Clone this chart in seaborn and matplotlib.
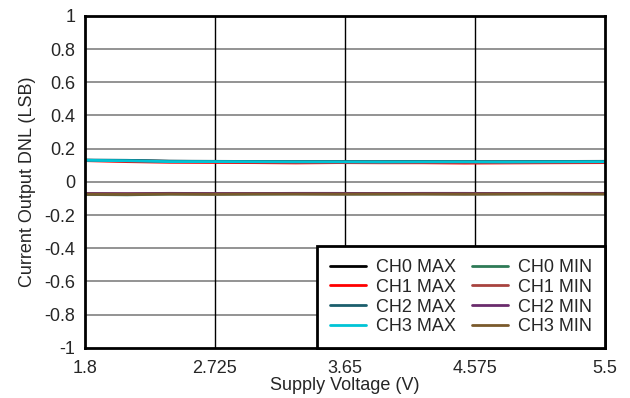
import pandas as pd
import seaborn as sns
import matplotlib.pyplot as plt

# supply voltage sweep (V)
voltage = [1.8, 2.1, 2.4, 2.7, 3.0, 3.3, 3.6, 3.9, 4.2, 4.5, 4.8, 5.1, 5.5]

# DNL (LSB) per channel
ch0_max = [0.130, 0.128, 0.124, 0.123, 0.122, 0.121, 0.121, 0.120, 0.121, 0.121, 0.120, 0.121, 0.122]
ch1_max = [0.128, 0.122, 0.118, 0.117, 0.116, 0.114, 0.116, 0.115, 0.115, 0.113, 0.114, 0.115, 0.116]
ch2_max = [0.132, 0.130, 0.125, 0.124, 0.123, 0.122, 0.122, 0.122, 0.123, 0.122, 0.122, 0.123, 0.124]
ch3_max = [0.130, 0.127, 0.122, 0.122, 0.121, 0.120, 0.120, 0.119, 0.120, 0.120, 0.119, 0.120, 0.121]
ch0_min = [-0.076, -0.078, -0.074, -0.075, -0.074, -0.073, -0.074, -0.074, -0.073, -0.074, -0.073, -0.073, -0.073]
ch1_min = [-0.072, -0.072, -0.071, -0.072, -0.071, -0.071, -0.072, -0.071, -0.071, -0.072, -0.071, -0.071, -0.071]
ch2_min = [-0.070, -0.071, -0.069, -0.070, -0.070, -0.069, -0.069, -0.070, -0.069, -0.069, -0.070, -0.069, -0.069]
ch3_min = [-0.074, -0.075, -0.073, -0.074, -0.073, -0.073, -0.073, -0.073, -0.073, -0.073, -0.073, -0.072, -0.073]

series_names = ['CH0 MAX', 'CH1 MAX', 'CH2 MAX', 'CH3 MAX',
                'CH0 MIN', 'CH1 MIN', 'CH2 MIN', 'CH3 MIN']
colors = ['#000000', '#ff0000', '#1b5e6c', '#00c4d6',
          '#2e7a56', '#a8433f', '#6a2c6c', '#7a5a2c']

x_ticks = [1.8, 2.725, 3.65, 4.575, 5.5]
y_ticks = [-1, -0.8, -0.6, -0.4, -0.2, 0, 0.2, 0.4, 0.6, 0.8, 1]
y_labels = ['-1', '-0.8', '-0.6', '-0.4', '-0.2', '0', '0.2', '0.4', '0.6', '0.8', '1']

all_values = [ch0_max, ch1_max, ch2_max, ch3_max, ch0_min, ch1_min, ch2_min, ch3_min]
rows = []
for name, vals in zip(series_names, all_values):
    for v, d in zip(voltage, vals):
        rows.append({'Voltage': v, 'DNL': d, 'Series': name})
df = pd.DataFrame(rows)

sns.set_style('white')
plt.rcParams['font.family'] = ['Liberation Sans', 'DejaVu Sans']
fs = 13

fig = plt.figure(figsize=(6.3, 3.98), dpi=100)
ax = fig.add_axes([0.135, 0.126, 0.825, 0.834])

# grid: grey horizontal, black vertical
for yv in y_ticks[1:-1]:
    ax.axhline(yv, color='#808080', lw=1.2, zorder=0)
for xv in x_ticks[1:-1]:
    ax.axvline(xv, color='black', lw=1.0, zorder=0)

sns.lineplot(data=df, x='Voltage', y='DNL', hue='Series', hue_order=series_names,
             palette=colors, linewidth=2, ax=ax, legend=True)

ax.set_xlim(1.8, 5.5)
ax.set_ylim(-1, 1)
ax.set_xticks(x_ticks)
ax.set_xticklabels(['1.8', '2.725', '3.65', '4.575', '5.5'])
ax.set_yticks(y_ticks)
ax.set_yticklabels(y_labels)
ax.tick_params(axis='x', labelsize=fs, length=0, pad=9)
ax.tick_params(axis='y', labelsize=fs, length=0, pad=7)
ax.set_xlabel('Supply Voltage (V)', fontsize=fs, labelpad=0)
ax.set_ylabel('Current Output DNL (LSB)', fontsize=fs, labelpad=6)
for s in ax.spines.values():
    s.set_color('black')
    s.set_linewidth(2)

leg = ax.legend(ncol=2, loc='lower right', bbox_to_anchor=(1.0, 0.0),
                fontsize=fs, frameon=True, fancybox=False, framealpha=1,
                handlelength=2.0, columnspacing=0.9, labelspacing=0.15,
                borderpad=0.7, handletextpad=0.55, borderaxespad=0)
leg.get_frame().set_edgecolor('black')
leg.get_frame().set_linewidth(2)

plt.savefig('out.png', dpi=100)
